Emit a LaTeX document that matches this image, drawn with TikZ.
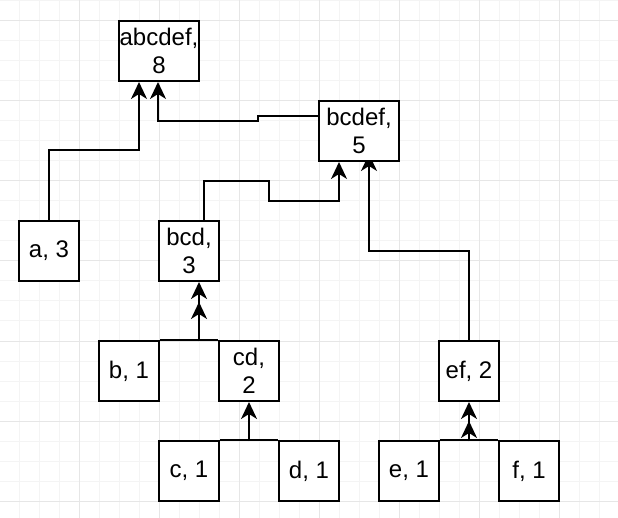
\documentclass[tikz,border=0pt]{standalone}
\usepackage{fontspec}
\setmainfont{Liberation Sans}
\usetikzlibrary{arrows.meta}
\pgfdeclarelayer{grid}
\pgfdeclarelayer{bg}
\pgfsetlayers{grid,bg,main}
\definecolor{gridminor}{RGB}{244,244,244}
\definecolor{gridmajor}{RGB}{230,230,230}
\begin{document}
\begin{tikzpicture}[x=1pt,y=-1pt,
  box/.style={draw=black, line width=2pt, fill=white, inner sep=0pt, align=center,
    font=\fontsize{24}{28}\selectfont, minimum height=60pt},
  sq/.style={box, minimum width=60pt},
  wide/.style={box, minimum width=80pt},
  conn/.style={draw=black, line width=2pt, -{Stealth[length=17pt,width=16pt,inset=5pt]}},
  plain/.style={draw=black, line width=2pt},
  minorline/.style={draw=gridminor, line width=1pt},
  majorline/.style={draw=gridmajor, line width=1pt}]
\useasboundingbox (0,0) rectangle (618,518);
\begin{pgfonlayer}{grid}
  \fill[white] (0,0) rectangle (618,518);
  \foreach \x in {-1,19,...,619} \draw[minorline] (\x,0) -- (\x,518);
  \foreach \y in {1,21,...,521} \draw[minorline] (0,\y) -- (618,\y);
  \foreach \x in {-1,79,...,619} \draw[majorline] (\x,0) -- (\x,518);
  \foreach \y in {21,101,...,521} \draw[majorline] (0,\y) -- (618,\y);
\end{pgfonlayer}

\node[wide] (abcdef) at (159,51) {abcdef,\\8};
\node[wide] (bcdef) at (359,131) {bcdef,\\5};
\node[sq] (a3) at (49,251) {a, 3};
\node[sq] (bcd) at (189,251) {bcd,\\3};
\node[sq] (b1) at (129,371) {b, 1};
\node[sq] (cd) at (249,371) {cd,\\2};
\node[sq] (c1) at (189,471) {c, 1};
\node[sq] (d1) at (309,471) {d, 1};
\node[sq] (ef) at (469,371) {ef, 2};
\node[sq] (e1) at (409,471) {e, 1};
\node[sq] (f1) at (529,471) {f, 1};
\coordinate (j1) at (199,341);
\coordinate (j2) at (249,441);
\coordinate (j3) at (469,441);

\begin{pgfonlayer}{bg}
  \draw[conn] (a3.north) -- ++(0,-70) -| ([xshift=-20pt]abcdef.south);
  \draw[conn] ([yshift=15pt]bcdef.west) -- ++(-60,0) -- ++(0,5) -| ([xshift=-1pt]abcdef.south);
  \draw[conn] ([xshift=15pt]bcd.north) -- ++(0,-39) -- ++(65,0) -- ++(0,20) -| ([xshift=-20pt]bcdef.south);
  \draw[conn] (ef.north) -- ++(0,-89) -| ([xshift=10pt,yshift=8pt]bcdef.south);
  \draw[plain] (b1.north east) -- (cd.north west);
  \draw[conn] (j1) -- ([xshift=10pt]bcd.south);
  \draw[conn] (j1) -- ([xshift=10pt,yshift=-20pt]bcd.south);
  \draw[plain] (c1.north east) -- (d1.north west);
  \draw[conn] (j2) -- (cd.south);
  \draw[plain] (e1.north east) -- (f1.north west);
  \draw[conn] (j3) -- (ef.south);
  \draw[conn] (j3) -- ([yshift=-19pt]ef.south);
\end{pgfonlayer}
\end{tikzpicture}
\end{document}
